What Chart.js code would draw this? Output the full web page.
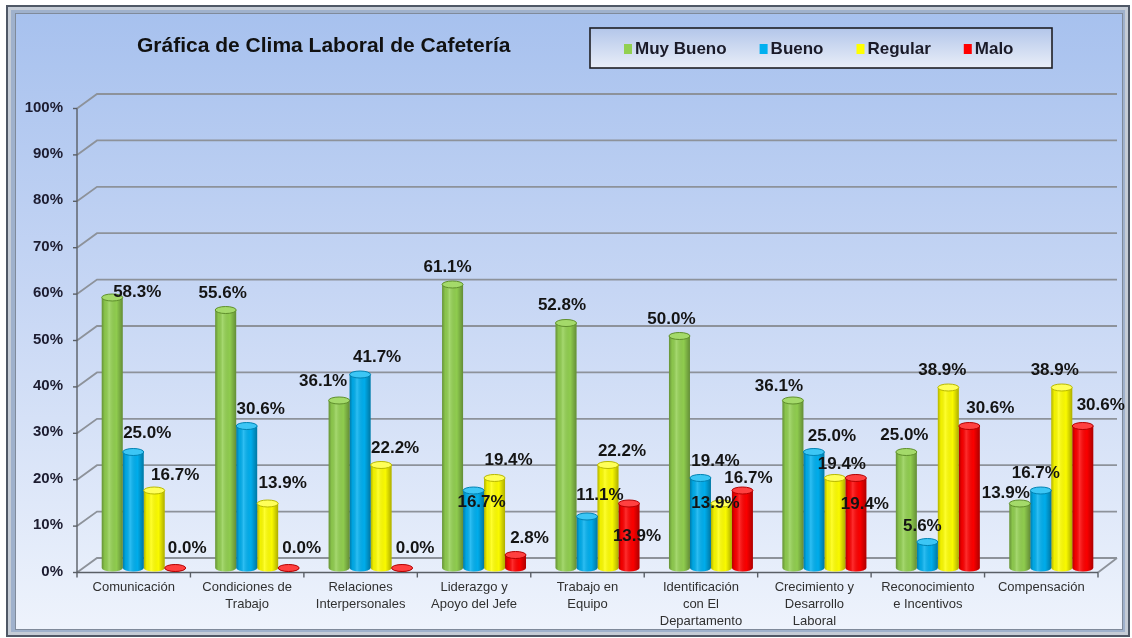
<!DOCTYPE html>
<html>
<head>
<meta charset="utf-8">
<title>Gráfica de Clima Laboral de Cafetería</title>
<script src="https://cdn.jsdelivr.net/npm/chart.js@4.4.1/dist/chart.umd.min.js"></script>
<style>
  html, body { margin: 0; padding: 0; background: #fff; }
  #wrap { width: 1132px; height: 638px; }
</style>
</head>
<body>
<div id="wrap"><canvas id="climaChart" width="1132" height="638"></canvas></div>
<script>
// datos de la encuesta (porcentajes)
const categories = [
    ['Comunicación'],
    ['Condiciones de', 'Trabajo'],
    ['Relaciones', 'Interpersonales'],
    ['Liderazgo y', 'Apoyo del Jefe'],
    ['Trabajo en', 'Equipo'],
    ['Identificación', 'con El', 'Departamento'],
    ['Crecimiento y', 'Desarrollo', 'Laboral'],
    ['Reconocimiento', 'e Incentivos'],
    ['Compensación']
];
const seriesNames = ['Muy Bueno', 'Bueno', 'Regular', 'Malo'];
const muyBueno = [58.3, 55.6, 36.1, 61.1, 52.8, 50.0, 36.1, 25.0, 13.9];
const bueno    = [25.0, 30.6, 41.7, 16.7, 11.1, 19.4, 25.0, 5.6, 16.7];
const regular  = [16.7, 13.9, 22.2, 19.4, 22.2, 13.9, 19.4, 38.9, 38.9];
const malo     = [0.0, 0.0, 0.0, 2.8, 13.9, 16.7, 19.4, 30.6, 30.6];
const tickLabels = ['0%', '10%', '20%', '30%', '40%', '50%', '60%', '70%', '80%', '90%', '100%'];

const FONT = 'Arial, "Liberation Sans", sans-serif';
const colors = ['#92d050', '#00b0f0', '#ffff00', '#ff0000'];
const capColors = ['#a4da6a', '#3cc6f5', '#ffff5a', '#ff4040'];
const rimColors = ['#5f8f2c', '#0082b3', '#b9b900', '#b30000'];

// desplazamiento de etiquetas (como en el original de Excel) [dx, dy] por categoria/serie
const labelShift = [
    [[25, -5], [14, -19], [21, -15], [12, -20]],
    [[-3, -17], [14, -17], [15, -20], [13, -20]],
    [[-16, -19], [17, -17], [14, -17], [13, -20]],
    [[-5, -17], [8, 12], [14, -18], [14, -17]],
    [[-4, -18], [13, -21], [14, -14], [8, 33]],
    [[-8, -17], [15, -17], [-6, 0], [6, -12]],
    [[-14, -14], [18, -16], [7, -14], [9, 26]],
    [[-2, -17], [-5, -16], [-6, -17], [21, -18]],
    [[-14, -10], [-5, -17], [-7, -17], [18, -21]]
];

// pseudo 3D: pared del fondo y eje frontal
const FRONT = { dx: -10, dy: 4.5 };
const BACK = { dx: 10, dy: -10 };

const framePlugin = {
    id: 'frame',
    beforeDraw(chart) {
        const ctx = chart.ctx;
        ctx.save();
        ctx.fillStyle = '#ffffff';
        ctx.fillRect(0, 0, chart.width, chart.height);
        ctx.fillStyle = '#c5ccd6';
        ctx.fillRect(7, 6, 1122, 630);
        ctx.fillStyle = '#9fb1cc';
        ctx.fillRect(11, 10, 1114, 622);
        ctx.strokeStyle = '#4f5866';
        ctx.lineWidth = 2;
        ctx.strokeRect(7, 6, 1122, 630);
        const g = ctx.createLinearGradient(0, 13, 0, 630);
        g.addColorStop(0, '#a7c1ee');
        g.addColorStop(0.45, '#c6d6f4');
        g.addColorStop(1, '#eef3fc');
        ctx.fillStyle = g;
        ctx.fillRect(15, 13, 1108, 617);
        ctx.strokeStyle = '#7f8a9a';
        ctx.lineWidth = 1;
        ctx.strokeRect(15.5, 13.5, 1107, 616);
        ctx.restore();
    }
};

const gridPlugin = {
    id: 'grid3d',
    beforeDatasetsDraw(chart) {
        const ctx = chart.ctx;
        const x = chart.scales.x, y = chart.scales.y;
        const left = chart.chartArea.left, right = chart.chartArea.right;
        ctx.save();
        ctx.strokeStyle = '#8d929a';
        ctx.lineWidth = 1.8;
        y.ticks.forEach(t => {
            const py = y.getPixelForValue(t.value);
            ctx.beginPath();
            ctx.moveTo(left + FRONT.dx, py + FRONT.dy);
            ctx.lineTo(left + BACK.dx, py + BACK.dy);
            ctx.lineTo(right + BACK.dx - 1, py + BACK.dy);
            ctx.stroke();
        });
        const y0 = y.getPixelForValue(0);
        ctx.beginPath();
        ctx.moveTo(right + FRONT.dx, y0 + FRONT.dy);
        ctx.lineTo(right + BACK.dx - 1, y0 + BACK.dy);
        ctx.stroke();

        // ejes frontales
        ctx.strokeStyle = '#5a5f66';
        ctx.lineWidth = 1.4;
        ctx.beginPath();
        ctx.moveTo(left + FRONT.dx, y.getPixelForValue(100) + FRONT.dy);
        ctx.lineTo(left + FRONT.dx, y0 + FRONT.dy);
        ctx.lineTo(right + FRONT.dx, y0 + FRONT.dy);
        ctx.stroke();
        y.ticks.forEach(t => {
            const py = y.getPixelForValue(t.value) + FRONT.dy;
            ctx.beginPath();
            ctx.moveTo(left + FRONT.dx - 4, py);
            ctx.lineTo(left + FRONT.dx, py);
            ctx.stroke();
        });
        const step = (right - left) / categories.length;
        for (let i = 0; i <= categories.length; i++) {
            const px = left + FRONT.dx + i * step;
            ctx.beginPath();
            ctx.moveTo(px, y0 + FRONT.dy);
            ctx.lineTo(px, y0 + FRONT.dy + 5);
            ctx.stroke();
        }

        // etiquetas de ejes
        ctx.fillStyle = '#1c1c30';
        ctx.font = 'bold 15px ' + FONT;
        ctx.textAlign = 'right';
        ctx.textBaseline = 'middle';
        y.ticks.forEach((t, i) => {
            ctx.fillText(tickLabels[i], 63, y.getPixelForValue(t.value) + FRONT.dy - 1);
        });
        ctx.fillStyle = '#303030';
        ctx.font = '13px ' + FONT;
        ctx.textAlign = 'center';
        categories.forEach((lines, i) => {
            const cx = x.getPixelForValue(i) + FRONT.dx;
            lines.forEach((ln, k) => ctx.fillText(ln, cx, y0 + FRONT.dy + 15 + k * 17));
        });
        ctx.restore();
    }
};

const cylinderPlugin = {
    id: 'cylinders',
    afterDatasetsDraw(chart) {
        const ctx = chart.ctx;
        ctx.save();
        chart.data.datasets.forEach((ds, di) => {
            const meta = chart.getDatasetMeta(di);
            meta.data.forEach(bar => {
                const w = bar.width, bx = bar.x - w / 2;
                const top = Math.min(bar.y, bar.base), base = bar.base;
                const ry = 3.5;
                const shade = ctx.createLinearGradient(bx, 0, bx + w, 0);
                shade.addColorStop(0, 'rgba(0,0,0,0.30)');
                shade.addColorStop(0.15, 'rgba(0,0,0,0.05)');
                shade.addColorStop(0.35, 'rgba(255,255,255,0.18)');
                shade.addColorStop(0.7, 'rgba(0,0,0,0.02)');
                shade.addColorStop(1, 'rgba(0,0,0,0.32)');
                // fondo redondeado
                ctx.beginPath();
                ctx.ellipse(bar.x, base, w / 2, ry, 0, 0, Math.PI);
                ctx.fillStyle = colors[di];
                ctx.fill();
                ctx.fillStyle = shade;
                ctx.fill();
                ctx.fillRect(bx, top, w, base - top);
                // tapa
                ctx.beginPath();
                ctx.ellipse(bar.x, top, w / 2, ry, 0, 0, Math.PI * 2);
                ctx.fillStyle = capColors[di];
                ctx.fill();
                ctx.strokeStyle = rimColors[di];
                ctx.lineWidth = 1;
                ctx.stroke();
            });
        });

        // etiquetas de datos
        ctx.fillStyle = '#141414';
        ctx.font = 'bold 17px ' + FONT;
        ctx.textAlign = 'center';
        ctx.textBaseline = 'middle';
        chart.data.datasets.forEach((ds, di) => {
            chart.getDatasetMeta(di).data.forEach((bar, i) => {
                const s = labelShift[i][di];
                ctx.fillText(ds.data[i].toFixed(1) + '%', bar.x + s[0], bar.y + s[1]);
            });
        });
        ctx.restore();
    },
    afterDraw(chart) {
        const ctx = chart.ctx;
        ctx.save();
        // titulo
        ctx.fillStyle = '#111111';
        ctx.font = 'bold 21px ' + FONT;
        ctx.textAlign = 'left';
        ctx.textBaseline = 'middle';
        ctx.fillText('Gráfica de Clima Laboral de Cafetería', 137, 46);

        // leyenda
        const lx = 590, ly = 28, lw = 462, lh = 40;
        const g = ctx.createLinearGradient(0, ly, 0, ly + lh);
        g.addColorStop(0, '#b3c6ea');
        g.addColorStop(1, '#e9eef8');
        ctx.fillStyle = g;
        ctx.fillRect(lx, ly, lw, lh);
        ctx.strokeStyle = '#1e1e24';
        ctx.lineWidth = 1.6;
        ctx.strokeRect(lx, ly, lw, lh);
        ctx.font = 'bold 17px ' + FONT;
        let px = 624;
        chart.data.datasets.forEach((ds, di) => {
            ctx.fillStyle = colors[di];
            ctx.fillRect(px, 44, 8, 10);
            ctx.fillStyle = '#1a1a28';
            ctx.fillText(ds.label, px + 11, 49);
            px += 11 + ctx.measureText(ds.label).width + 33;
        });
        ctx.restore();
    }
};

const ctx = document.getElementById('climaChart').getContext('2d');
new Chart(ctx, {
    type: 'bar',
    data: {
        labels: categories,
        datasets: [muyBueno, bueno, regular, malo].map((vals, i) => ({
            label: seriesNames[i],
            data: vals,
            backgroundColor: colors[i],
            borderWidth: 0,
            categoryPercentage: 0.74,
            barPercentage: 1.0
        }))
    },
    options: {
        responsive: false,
        animation: false,
        devicePixelRatio: 1,
        layout: { padding: { left: 87, right: 24, top: 104, bottom: 70 } },
        plugins: {
            legend: { display: false },
            title: { display: false },
            tooltip: { enabled: false }
        },
        scales: {
            x: { display: false, grid: { display: false } },
            y: { display: false, min: 0, max: 100, ticks: { stepSize: 10 } }
        }
    },
    plugins: [framePlugin, gridPlugin, cylinderPlugin]
});
</script>
</body>
</html>
